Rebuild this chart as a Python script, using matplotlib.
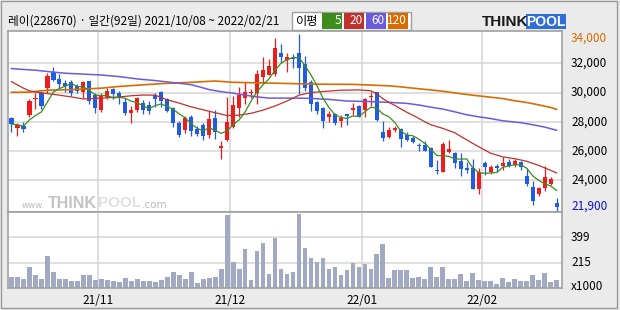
import matplotlib
matplotlib.use('Agg')
import matplotlib.pyplot as plt
import numpy as np
import pandas as pd
from matplotlib.transforms import blended_transform_factory
from matplotlib.patches import Rectangle

plt.rcParams['font.family'] = ['Noto Sans CJK KR', 'DejaVu Sans']

title = '레이(228670) · 일간(92일) 2021/10/08 ~ 2022/02/21'

opens = [28230, 27575, 27730, 28480, 29570, 29980, 30300, 31430, 30910, 30660,
         30730, 30430, 30070, 30800, 29840, 28820, 29710, 30230, 30000, 29320,
         28570, 28800, 29300, 29160, 29820, 30050, 29550, 28940, 27890, 27440,
         28320, 27530, 27800, 27120, 28250, 26190, 26760, 27620, 28910, 29660,
         29980, 30000, 31090, 31180, 31250, 32680, 32200, 32360, 32680, 31930,
         30730, 29320, 28940, 28350, 28530, 28070, 28530, 28840, 29100, 28800,
         29710, 30050, 27320, 26940, 27440, 27510, 27090, 26890, 26390, 26440,
         26190, 24710, 24600, 25920, 25870, 25350, 24830, 24830, 23400, 25170,
         24560, 24990, 25010, 25280, 25050, 25280, 24260, 23510, 23060, 23470,
         23760, 22420]
highs = [28350, 27890, 27960, 29550, 30000, 29980, 31340, 31750, 31250, 30840,
         30840, 30570, 30800, 30800, 30000, 30000, 30340, 30300, 30110, 29620,
         29100, 29710, 29500, 29435, 30000, 30110, 29660, 29030, 28070, 28410,
         28480, 27690, 27910, 28710, 28800, 26660, 29710, 29780, 30390, 30730,
         30270, 31520, 32430, 32270, 33700, 33300, 32730, 32610, 34000, 32500,
         30840, 29435, 29030, 28750, 28570, 28460, 28530, 29300, 29160, 29660,
         30070, 30050, 28070, 27660, 27730, 27550, 27320, 27050, 26530, 26710,
         26260, 25390, 26640, 26780, 25960, 25870, 25240, 25460, 24830, 25300,
         25050, 25120, 25580, 25460, 25460, 25350, 24830, 23920, 23530, 25010,
         24210, 22810]
lows = [27280, 27050, 27280, 28300, 28870, 28870, 30000, 30800, 30300, 30070,
        29780, 30000, 29660, 29250, 28570, 28660, 29550, 29550, 29210, 28480,
        27890, 28660, 28530, 28530, 28980, 28980, 28640, 27660, 26980, 27210,
        27050, 27000, 26730, 26890, 26800, 25460, 26710, 27550, 28350, 29210,
        29660, 29250, 30680, 31180, 31140, 32050, 31430, 31660, 29890, 30110,
        28750, 28530, 27550, 27960, 27780, 27620, 27780, 28460, 28300, 28350,
        29100, 28030, 26710, 26890, 27280, 26260, 26670, 26550, 25990, 25990,
        24900, 24400, 24550, 25850, 24830, 24280, 24490, 23370, 23030, 24370,
        24440, 24560, 24710, 24900, 24940, 24710, 23600, 22310, 22920, 23260,
        23690, 21900]
closes = [27845, 27755, 27480, 29435, 29615, 29100, 31140, 30890, 30615, 30460,
          30000, 30120, 30730, 29390, 28910, 29840, 30120, 29890, 29620, 28570,
          28820, 29620, 28800, 28710, 29590, 29390, 28710, 27890, 27120, 28230,
          27350, 27165, 27050, 28190, 27280, 26370, 28000, 29160, 29820, 30050,
          30050, 31250, 31520, 31820, 33020, 32430, 32430, 32300, 31700, 30340,
          29250, 28710, 28070, 28530, 27890, 28250, 28410, 28910, 28350, 29550,
          29750, 28120, 26870, 27460, 27550, 26820, 26780, 26600, 26320, 26030,
          24900, 24650, 26480, 26140, 25190, 24780, 24710, 23420, 24560, 24890,
          24940, 24850, 25210, 25010, 25300, 24900, 23740, 22580, 23440, 24190,
          24120, 22170]
volumes = [112, 112, 100, 186, 129, 100, 267, 149, 93, 93,
           85, 85, 126, 126, 88, 97, 88, 82, 75, 103,
           83, 96, 80, 80, 72, 88, 112, 149, 122, 98,
           149, 69, 97, 105, 112, 171, 561, 222, 171, 311,
           90, 303, 355, 134, 392, 171, 134, 149, 570, 320,
           252, 222, 252, 171, 185, 127, 163, 215, 186, 208,
           171, 279, 352, 105, 164, 164, 164, 105, 112, 97,
           183, 112, 186, 97, 97, 134, 83, 142, 90, 85,
           82, 61, 105, 75, 97, 83, 83, 127, 88, 142,
           75, 88]

ma20_idx = [0, 1, 2, 3, 4, 6, 8, 10, 12, 14, 16, 18, 20, 22, 24, 26, 28, 30, 32, 34,
            36, 38, 40, 42, 44, 46, 48, 50, 52, 55, 58, 60, 61, 62, 63, 64, 65, 66,
            67, 68, 69, 70, 72, 74, 76, 78, 80, 82, 84, 86, 88, 90, 91]
ma20_val = [30750, 30520, 30300, 30120, 30040, 29930, 29820, 29700, 29560, 29600,
            29640, 29700, 29780, 29830, 29820, 29500, 29280, 29020, 28820, 28620,
            28430, 28450, 28580, 28800, 29080, 29420, 29820, 30000, 30070, 30160,
            30180, 30120, 29900, 29580, 29330, 29120, 28880, 28650, 28450, 28230,
            28000, 27800, 27550, 27250, 26760, 26290, 25850, 25600, 25480, 25300,
            25020, 24680, 24500]
ma60_idx = [0, 2, 4, 6, 9, 15, 18, 21, 24, 27, 30, 32, 33, 35, 37, 39, 41, 43, 47,
            50, 53, 56, 60, 63, 66, 68, 70, 72, 74, 76, 78, 80, 82, 85, 87, 89, 91]
ma60_val = [31640, 31580, 31530, 31440, 31320, 31200, 31090, 30930, 30820, 30680,
            30540, 30320, 30200, 30060, 29960, 29820, 29700, 29620, 29620, 29600,
            29530, 29420, 29380, 29330, 29260, 29150, 29000, 28870, 28680, 28480,
            28340, 28220, 28070, 27940, 27800, 27640, 27420]
ma120_idx = [0, 3, 6, 10, 15, 18, 21, 25, 30, 34, 37, 44, 48, 52, 57, 60, 63, 65,
             67, 70, 72, 75, 77, 80, 82, 84, 86, 88, 90, 91]
ma120_val = [30020, 30030, 30160, 30200, 30300, 30420, 30500, 30610, 30700, 30790,
             30700, 30640, 30600, 30570, 30560, 30510, 30460, 30390, 30300, 30180,
             30090, 29920, 29820, 29680, 29590, 29440, 29320, 29160, 28980, 28850]

month_labels = ['21/11', '21/12', '22/01', '22/02']
month_start_idx = [15, 37, 59, 79]
price_grid = [32000, 30000, 28000, 26000, 24000]
price_max, price_min = 34000, 21900
vol_grid = [399, 215]
ma_periods = ['5', '20', '60', '120']

W, H = 620, 310
def fx(px):
    return px / W
def fy(py):
    return 1 - py / H

UP = '#EE1C1C'
DOWN = '#1F5BE3'
C_MA5 = '#3C8C1E'
C_MA20 = '#C0302C'
C_MA60 = '#6A5BDC'
C_MA120 = '#D86C00'
GRID = '#D6D6D6'
SPINE = '#A0A0A0'
BG = '#EBEBEB'

fig = plt.figure(figsize=(6.2, 3.1), dpi=100)
fig.patch.set_facecolor(BG)
fig.add_artist(Rectangle((fx(1), fy(308)), fx(616), 307 / H, transform=fig.transFigure,
                         facecolor='none', edgecolor='#9A9A9A', lw=1.0))

ax_p = fig.add_axes([fx(8), fy(212), fx(554), 181 / H])
ax_v = fig.add_axes([fx(8), fy(288), fx(554), 76 / H])

n = len(closes)
x = np.arange(n)
o = np.array(opens); c = np.array(closes); h = np.array(highs); l = np.array(lows)
up = c >= o
colors = np.where(up, UP, DOWN)

for ax in (ax_p, ax_v):
    ax.set_facecolor('white')
    ax.set_xlim(-0.58, 91.9)
    ax.set_xticks([]); ax.set_yticks([])
    for s in ax.spines.values():
        s.set_color(SPINE); s.set_linewidth(1.2)
    for mi in month_start_idx:
        ax.axvline(mi - 0.5, color=GRID, lw=1.1, zorder=0.5)

ax_p.set_ylim(21830, 34210)
for g in price_grid:
    ax_p.axhline(g, color=GRID, lw=1.1, zorder=0.5)

# candles
ax_p.vlines(x, l, h, colors=colors, lw=0.9, zorder=2)
body = np.maximum(np.abs(c - o), 40)
ax_p.bar(x, body, bottom=np.minimum(o, c), width=0.7, color=colors, edgecolor='none', zorder=2.5)

# moving averages
ma5 = pd.Series(c).rolling(5, min_periods=1).mean()
ax_p.plot(ma120_idx, ma120_val, color=C_MA120, lw=1.2, zorder=3)
ax_p.plot(ma60_idx, ma60_val, color=C_MA60, lw=1.1, zorder=3)
ax_p.plot(ma20_idx, ma20_val, color=C_MA20, lw=0.9, zorder=3)
ax_p.plot(x, ma5, color=C_MA5, lw=0.9, zorder=3.5)

# watermark
ax_p.text(fx(22), fy(205), 'www.', transform=fig.transFigure, fontsize=6.3,
          color='#BDBDBD', va='center', ha='left', family='DejaVu Sans', zorder=1)
ax_p.text(fx(48), fy(203), 'THINK', transform=fig.transFigure, fontsize=11.5,
          fontweight='bold', color='#C3C3C3', va='center', ha='left',
          family='Liberation Sans', zorder=1)
ax_p.text(fx(98), fy(203), 'POOL', transform=fig.transFigure, fontsize=11,
          fontweight='bold', color='#E0E0E0', va='center', ha='left',
          family='Liberation Sans', zorder=1)
ax_p.text(fx(142), fy(205), '.com', transform=fig.transFigure, fontsize=7.5,
          color='#BDBDBD', va='center', ha='left', family='DejaVu Sans', zorder=1)

# volume
ax_v.set_ylim(31, 583)
for g in vol_grid:
    ax_v.axhline(g, color=GRID, lw=1.1, zorder=0.5)
ax_v.bar(x, volumes, width=0.8, color='#A2A9C2', edgecolor='none', zorder=2)

# right labels
tp = blended_transform_factory(fig.transFigure, ax_p.transData)
for g in price_grid:
    ax_p.text(fx(571), g, f'{g:,}', transform=tp, fontsize=8.5, va='center', ha='left',
              color='black', clip_on=False)
ax_p.annotate(f'{price_max:,}', xy=(fx(571), price_max), xycoords=tp,
              xytext=(0, -3), textcoords='offset points', fontsize=8.5,
              va='center', ha='left', color=C_MA120, annotation_clip=False)
ax_p.annotate(f'{price_min:,}', xy=(fx(571), price_min), xycoords=tp,
              xytext=(0, 3.6), textcoords='offset points', fontsize=8.5,
              va='center', ha='left', color='#1010C8', annotation_clip=False)
tv = blended_transform_factory(fig.transFigure, ax_v.transData)
for g in vol_grid:
    ax_v.text(fx(571), g, str(g), transform=tv, fontsize=8.5, va='center', ha='left',
              color='black', clip_on=False)
fig.text(fx(571), fy(286.5), 'x1000', fontsize=8.5, va='center', ha='left', color='black')

# date labels
td = blended_transform_factory(ax_v.transData, fig.transFigure)
for lab, mi in zip(month_labels, month_start_idx):
    ax_v.text(mi - 0.5, fy(301), lab, transform=td, fontsize=8.5, ha='center',
              va='center', color='black', clip_on=False)

# title
fig.text(fx(8), fy(21.5), title, fontsize=8.4, va='center', ha='left', color='black')

# MA legend box
fig.add_artist(Rectangle((fx(292), fy(29.5)), fx(119), 17.5 / H, transform=fig.transFigure,
                         facecolor='white', edgecolor='#A0A0A0', lw=1.0))
fig.text(fx(296), fy(21), '이평', fontsize=8.8, va='center', ha='left', color='black')
box_x = [322, 344, 366, 388]
box_c = [C_MA5, C_MA20, C_MA60, C_MA120]
for bx, bc, lab in zip(box_x, box_c, ma_periods):
    fig.add_artist(Rectangle((fx(bx), fy(28.5)), fx(20), 15.5 / H, transform=fig.transFigure,
                             facecolor=bc, edgecolor='none'))
    fig.text(fx(bx + 19), fy(21), lab, fontsize=8.5, va='center', ha='right', color='white')

# THINKPOOL logo
fig.text(fx(482), fy(21.5), 'THINK', fontsize=11, fontweight='bold', va='center', ha='left',
         color='#1A1A1A', family='Liberation Sans')
fig.add_artist(Rectangle((fx(526), fy(29)), fx(40), 15 / H, transform=fig.transFigure,
                         facecolor='#2F6ED6', edgecolor='none'))
fig.text(fx(546), fy(21.5), 'POOL', fontsize=10, fontweight='bold', va='center', ha='center',
         color='white', family='Liberation Sans')

fig.savefig('out.png', dpi=100, facecolor=fig.get_facecolor())
